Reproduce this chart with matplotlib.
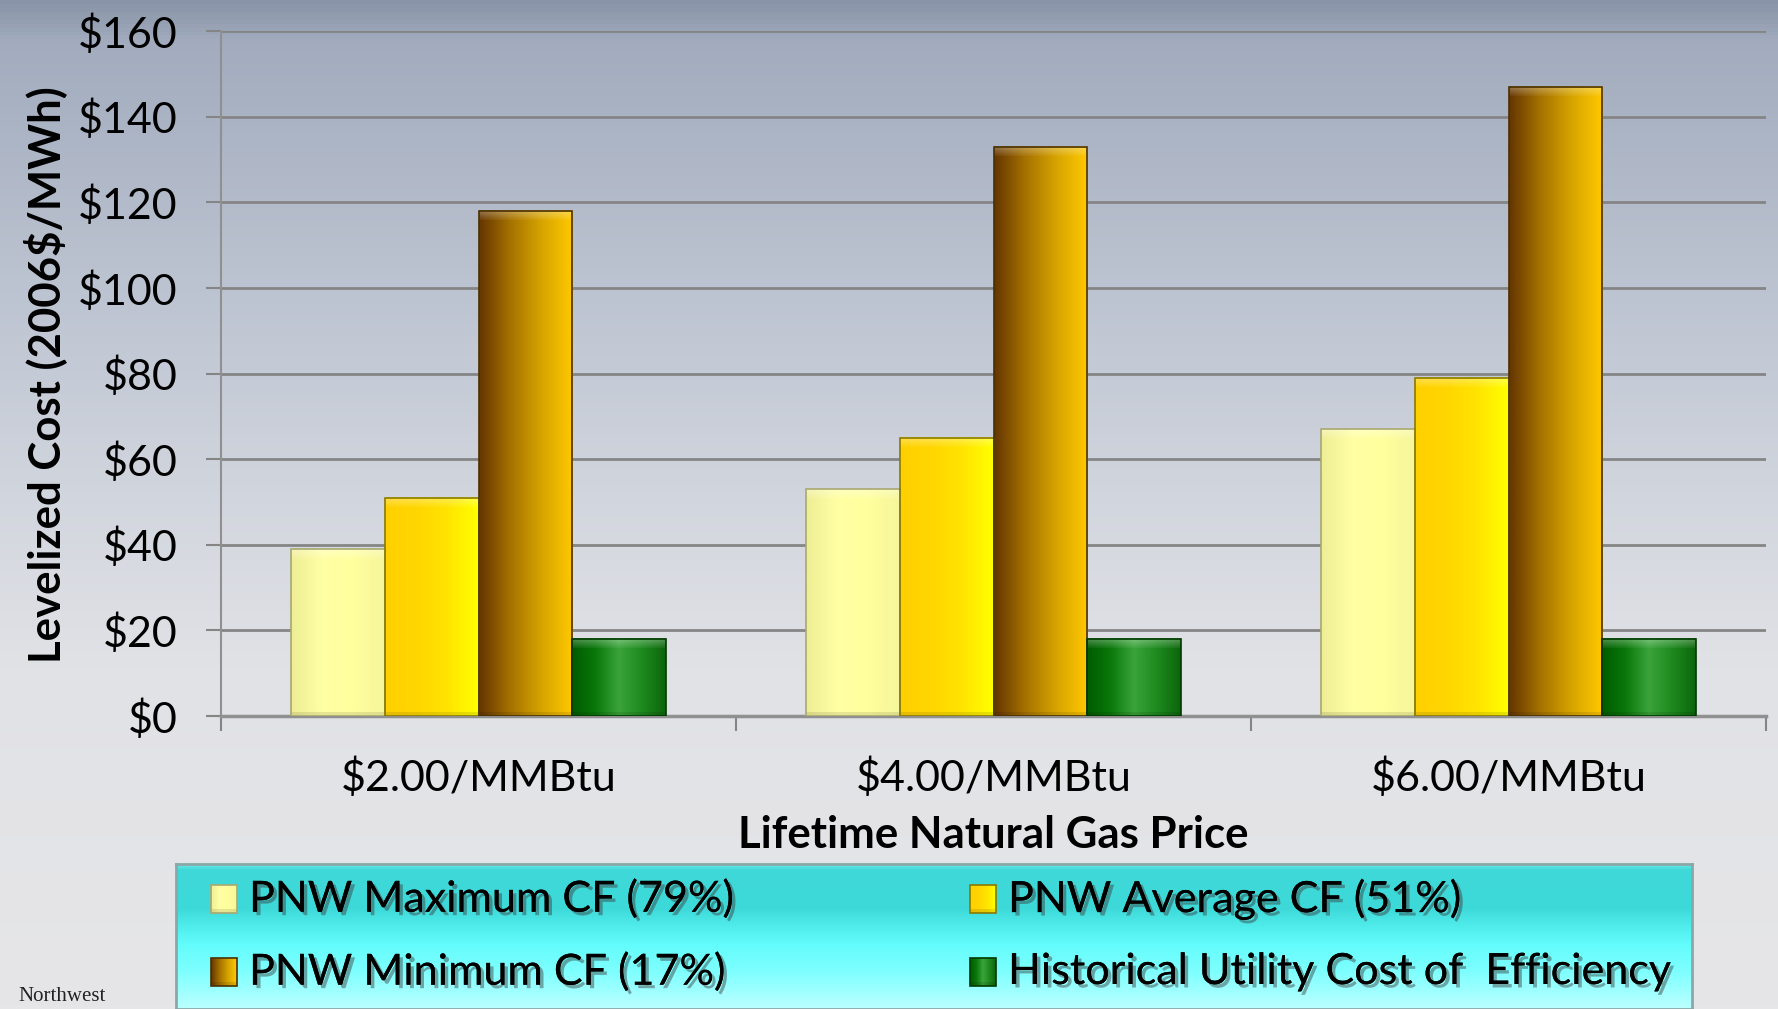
import numpy as np
import matplotlib.pyplot as plt
import matplotlib.patheffects as pe
from matplotlib.colors import LinearSegmentedColormap
from matplotlib.patches import Rectangle

plt.rcParams['font.family'] = ['Lato', 'DejaVu Sans']

# ── data ──
prices = ['$2.00/MMBtu', '$4.00/MMBtu', '$6.00/MMBtu']
series_names = ['PNW Maximum CF (79%)', 'PNW Average CF (51%)',
                'PNW Minimum CF (17%)', 'Historical Utility Cost of  Efficiency']
max_cf = [39, 53, 67]
avg_cf = [51, 65, 79]
min_cf = [118, 133, 147]
hist_eff = [18, 18, 18]
yticks = [0, 20, 40, 60, 80, 100, 120, 140, 160]

# left -> right shading of each series
shades = [
    ['#EEEE96', '#FFFFA4', '#FFFF9E', '#F6F69C'],
    ['#FFD000', '#FFD600', '#FFE400', '#FFFF00'],
    ['#653600', '#A67200', '#D6A400', '#FFC800'],
    ['#005C00', '#0A780A', '#3AA43A', '#1E8A1E', '#0C660C'],
]
edge_cols = ['#A8A870', '#8A7A00', '#4A3000', '#003A00']

W, H = 1778, 1009
fig = plt.figure(figsize=(W / 100, H / 100), dpi=100)

# slide background
bg = fig.add_axes([0, 0, 1, 1])
bg_cmap = LinearSegmentedColormap.from_list('bg', [
    (0.0, '#8A94A8'), (0.04, '#A2ACBE'), (0.3, '#BEC5D2'),
    (0.5, '#D2D6DE'), (0.66, '#E1E2E6'), (1.0, '#E6E6E8')])
bg.imshow(np.linspace(0, 1, 256)[:, None], cmap=bg_cmap, aspect='auto',
          extent=(0, 1, 0, 1), origin='upper')
bg.set_axis_off()

ax = fig.add_axes([221 / W, 1 - 716 / H, (1766 - 221) / W, (716 - 31) / H])
ax.set_facecolor('none')

x = np.arange(len(prices))
bw = 0.182
vals = [max_cf, avg_cf, min_cf, hist_eff]
px_per_unit = 685 / 160


def shaded_bar(axis, x0, y0, w, h, cols, edge, bevel_px=10, ppu=1.0):
    cmap = LinearSegmentedColormap.from_list('b', cols)
    ncol = 80
    nrow = max(int(abs(h) * ppu), 3)
    base = cmap(np.linspace(0, 1, ncol))[:, :3]
    img = np.repeat(base[None, :, :], nrow, axis=0)
    top = min(bevel_px, nrow // 3)
    if top:
        # soft bevel: lightest just under the top edge, fading down
        k = np.linspace(0.32, 0.05, top)[:, None, None]
        img[:top] = img[:top] * (1 - k) + k
    bot = min(4, nrow // 6)
    if bot:
        img[-bot:] = img[-bot:] * 0.9
    axis.imshow(img, extent=(x0, x0 + w, y0, y0 + h), origin='upper',
                aspect='auto', interpolation='bilinear', zorder=3)
    axis.add_patch(Rectangle((x0, y0), w, h, facecolor='none',
                             edgecolor=edge, lw=1.2, zorder=4))


for i, (v, cols) in enumerate(zip(vals, shades)):
    bars = ax.bar(x + (i - 1.5) * bw, v, bw, color=cols[1], zorder=2,
                  label=series_names[i])
    for b in bars:
        shaded_bar(ax, b.get_x(), 0, b.get_width(), b.get_height(), cols,
                   edge_cols[i], ppu=px_per_unit)

ax.set_xlim(-0.5, len(prices) - 0.5)
ax.set_ylim(0, 160)
ax.set_yticks(yticks)
ax.set_yticklabels([f'${t}' for t in yticks])
ax.set_xticks(x)
ax.set_xticklabels(prices)
ax.set_xticks(np.arange(-0.5, len(prices)), minor=True)
ax.tick_params(axis='y', labelsize=31, length=11, width=1.5, color='#858585',
               pad=20)
ax.tick_params(axis='x', which='major', labelsize=31, length=0, pad=30)
ax.tick_params(axis='x', which='minor', length=11, width=1.5, color='#858585')
ax.yaxis.grid(True, color='#858585', lw=2)
ax.set_axisbelow(True)
for s in ['top', 'right']:
    ax.spines[s].set_visible(False)
ax.spines['left'].set_color('#909090')
ax.spines['left'].set_linewidth(1.5)
ax.spines['bottom'].set_color('#909090')
ax.spines['bottom'].set_linewidth(2.5)

fig.text(45 / W, 1 - 375 / H, 'Levelized Cost (2006$/MWh)', rotation=90,
         ha='center', va='center', fontsize=31.5, fontweight='bold')
fig.text(993 / W, 1 - 835 / H, 'Lifetime Natural Gas Price', ha='center',
         va='center', fontsize=31.5, fontweight='bold')

# legend panel
lx0, lx1, ly0 = 176, 1692, 864
lax = fig.add_axes([lx0 / W, 0, (lx1 - lx0) / W, (H - ly0) / H])
leg_cmap = LinearSegmentedColormap.from_list('lg', [
    (0.0, '#6EEAEA'), (0.04, '#3FD8D8'), (0.3, '#3DD9D9'),
    (0.55, '#62FCFC'), (0.75, '#80FFFF'), (1.0, '#BCFFFF')])
lax.imshow(np.linspace(0, 1, 256)[:, None], cmap=leg_cmap, aspect='auto',
           extent=(lx0, lx1, H, ly0), origin='upper')
lax.set_xlim(lx0, lx1)
lax.set_ylim(H, ly0)
lax.set_xticks([])
lax.set_yticks([])
for s in lax.spines.values():
    s.set_color('#8AA8A8')
    s.set_linewidth(2)

leg_pos = [(211, 899), (970, 899), (211, 972), (970, 972)]
shadow = [pe.withSimplePatchShadow(offset=(2.5, -2.5), shadow_rgbFace='#3A3A3A',
                                   alpha=0.45), pe.Normal()]
for i, (px, py) in enumerate(leg_pos):
    shaded_bar(lax, px, py + 14, 26, -28, shades[i], edge_cols[i], bevel_px=0)
    lax.text(px + 38, py, series_names[i], ha='left', va='center',
             fontsize=31, path_effects=shadow)

fig.text(18 / W, 1 - 1006 / H, 'Northwest', family='Liberation Serif',
         fontsize=15, color='#222222', ha='left', va='bottom')

fig.savefig('out.png', dpi=100)
